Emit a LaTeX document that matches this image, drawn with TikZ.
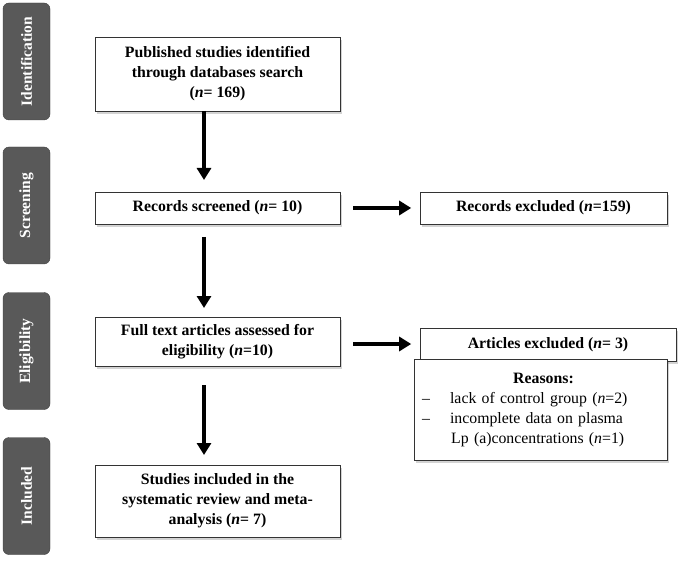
\documentclass[tikz,border=0pt]{standalone}
\usepackage{fontspec}
\setmainfont{Liberation Serif}
\usetikzlibrary{shadows,arrows.meta}
\begin{document}
\begin{tikzpicture}[x=1pt,y=-1pt,
 tab/.style={fill=black!65,draw=black!75,rounded corners=6pt,minimum width=47pt,minimum height=117pt,text=white,font=\fontsize{15.5}{18}\selectfont\bfseries},
 box/.style={draw=black!80,fill=white,drop shadow={shadow xshift=2pt,shadow yshift=-3pt,opacity=.35},align=center,font=\fontsize{15.8}{20}\selectfont\bfseries,inner sep=3pt},
 arr/.style={line width=4.5pt,-{Triangle[length=12pt,width=14pt]}}]
\useasboundingbox (0,0) rectangle (685,561);
\node[tab] (t1) at (26.5,61.5) {\rotatebox{90}{Identification}};
\node[tab] (t2) at (26.5,205.5) {\rotatebox{90}{Screening}};
\node[tab] (t3) at (26.5,351) {\rotatebox{90}{Eligibility}};
\node[tab] (t4) at (26.5,496) {\rotatebox{90}{Included}};
\node[box,minimum width=245pt,minimum height=74pt] (a) at (217.5,74) {Published studies identified\\through databases search\\(\textit{n}= 169)};
\node[box,minimum width=245pt,minimum height=32pt] (b) at (217.5,208) {Records screened (\textit{n}= 10)};
\node[box,minimum width=247pt,minimum height=32pt] (c) at (543.5,208) {Records excluded (\textit{n}=159)};
\node[box,minimum width=245pt,minimum height=49pt] (d) at (217.5,341.5) {Full text articles assessed for\\eligibility (\textit{n}=10)};
\node[box,minimum width=256pt,minimum height=33pt] (e) at (548,344.5) {Articles excluded (\textit{n}= 3)};
\node[box,minimum height=101pt,anchor=north west,align=left,text width=245pt,inner xsep=4pt,font=\fontsize{15.8}{20}\selectfont] (r) at (414,359) {\hspace*{95pt}\textbf{Reasons:}\\
\hspace*{4pt}–\hspace{20pt}lack of control group (\textit{n}=2)\\
\hspace*{4pt}–\hspace{20pt}incomplete data on plasma\\
\hspace*{33pt}Lp (a)concentrations (\textit{n}=1)};
\node[box,minimum width=245pt,minimum height=72pt] (f) at (217.5,501) {Studies included in the\\systematic review and meta-\\analysis (\textit{n}= 7)};
\draw[arr] (204,111) -- (204,180);
\draw[arr] (204,237) -- (204,308);
\draw[arr] (204,385) -- (204,455);
\draw[arr] (b.east)++(13,0) -- ++(58,0);
\draw[arr] (d.east)++(13,2.5) -- ++(58,0);
\end{tikzpicture}
\end{document}
